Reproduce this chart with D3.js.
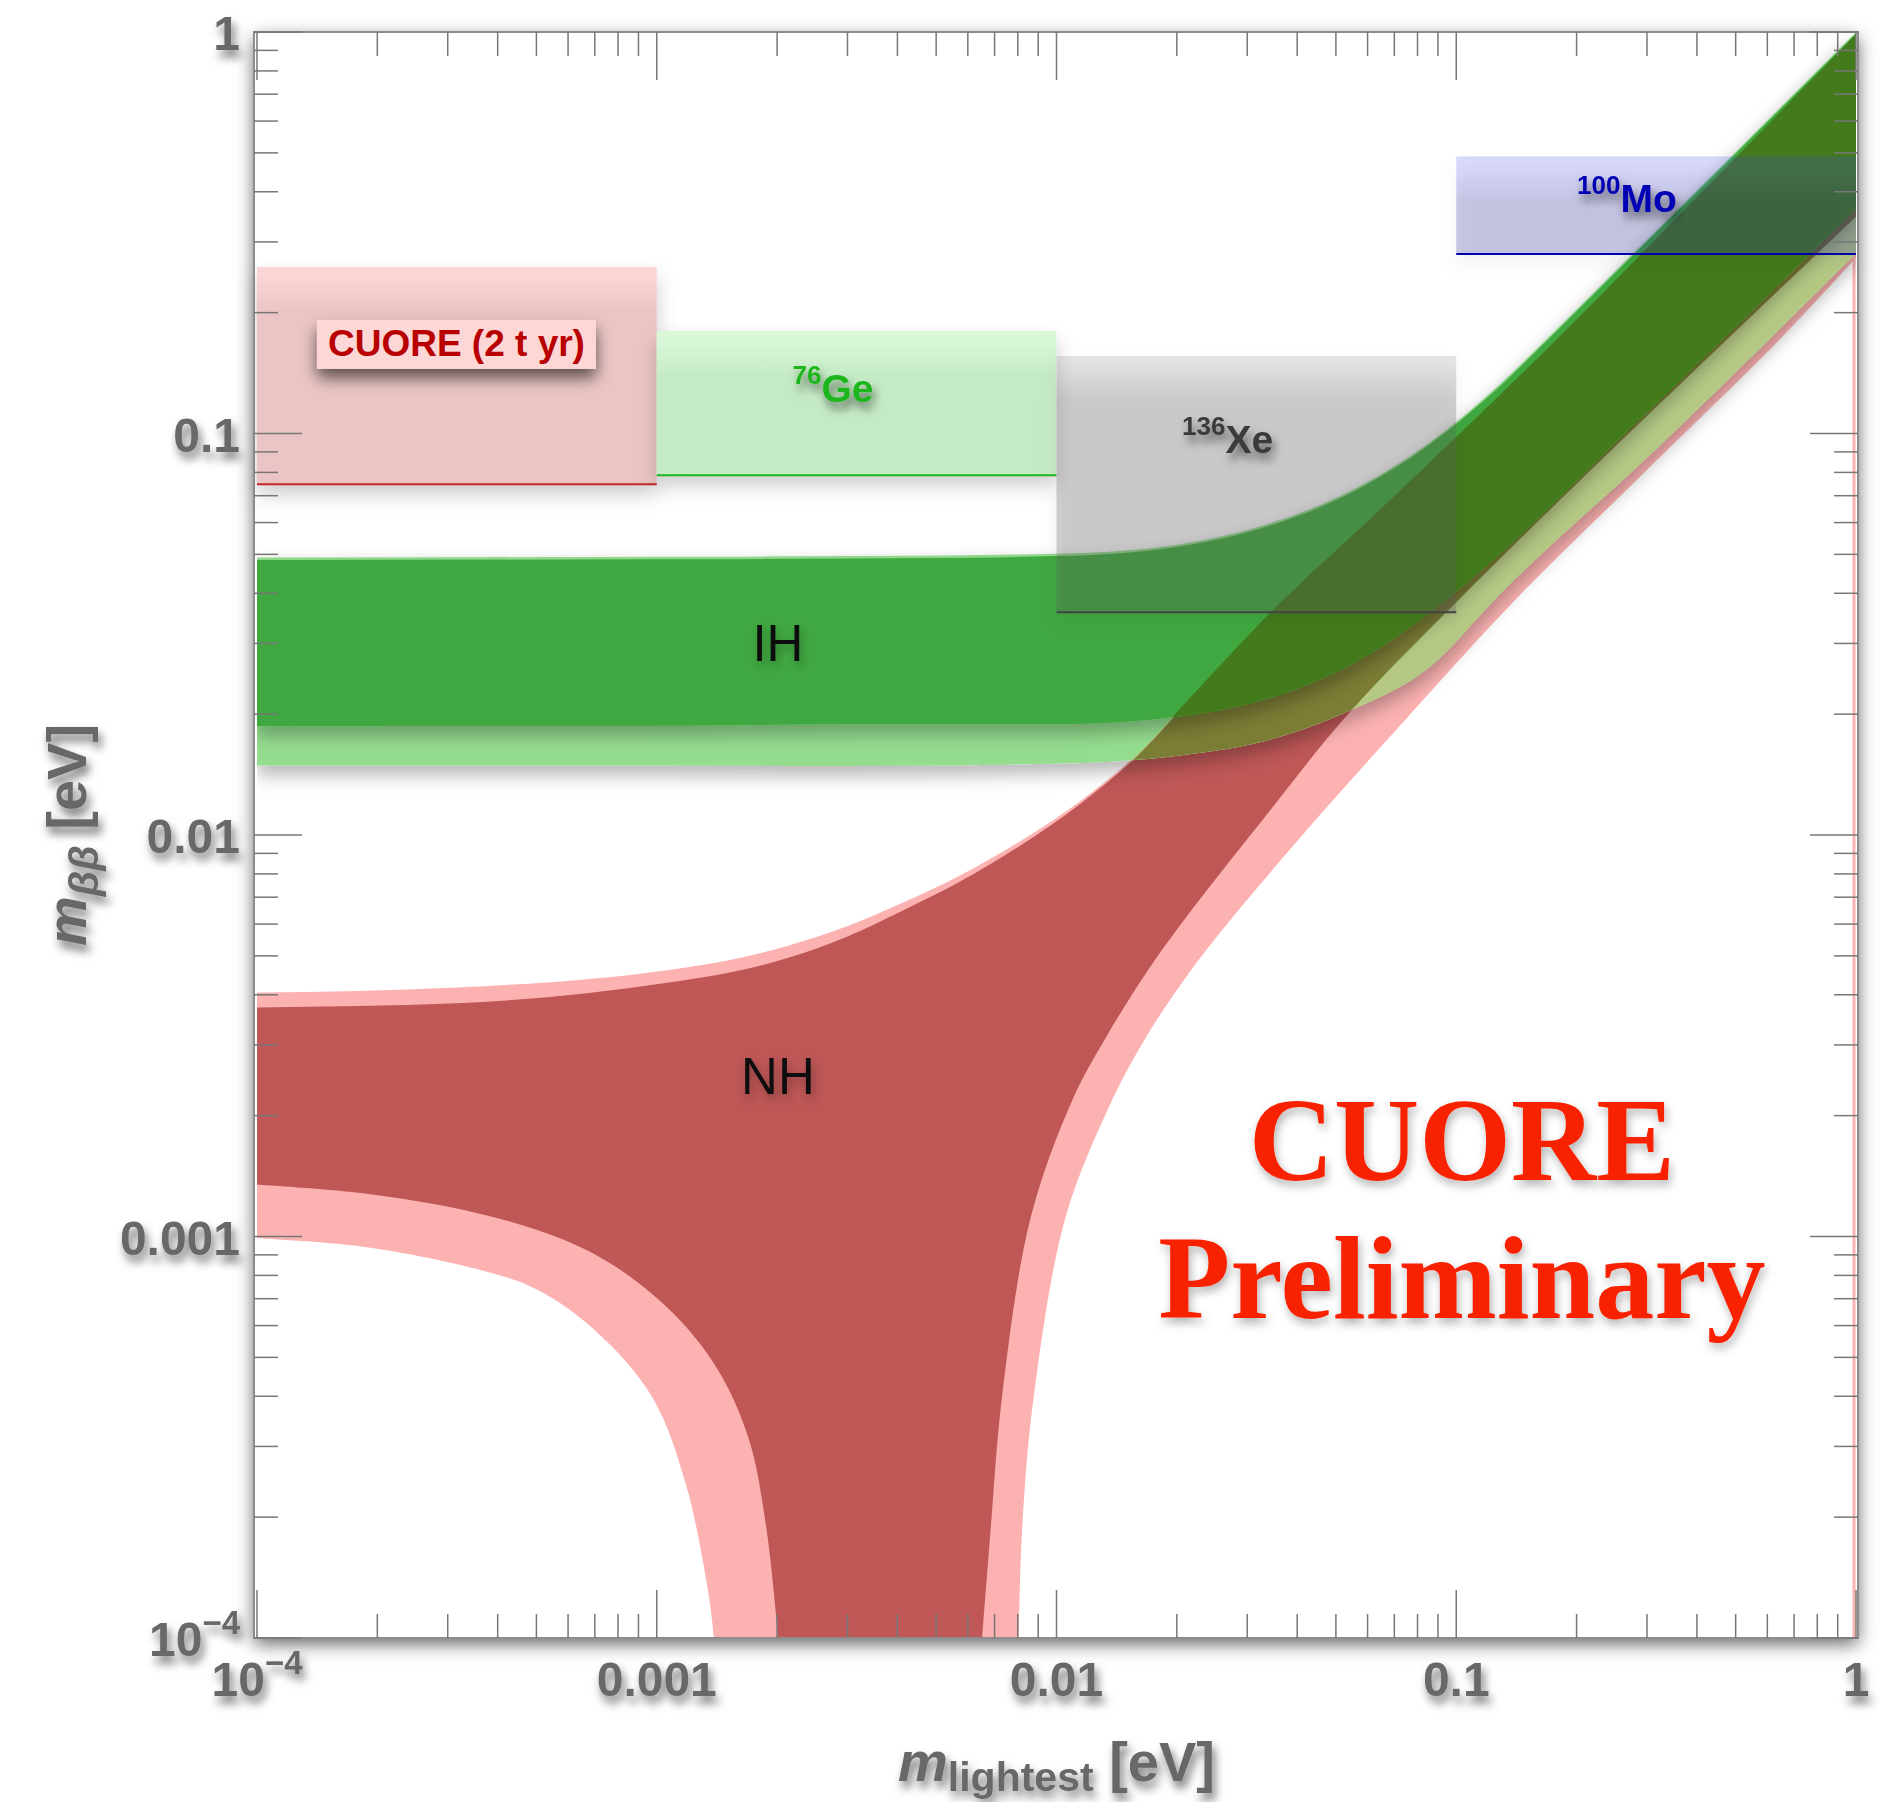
<!DOCTYPE html>
<html>
<head>
<meta charset="utf-8">
<script src="https://cdn.jsdelivr.net/npm/d3@7"></script>
<style>
  body { margin: 0; background: #fff; }
  svg { display: block; }
</style>
</head>
<body>
<div id="main"></div>
<script>
// axis ticks
var xTickValues = [1e-4, 1e-3, 1e-2, 1e-1, 1];
var xTickLabels = ['10^\u22124', '0.001', '0.01', '0.1', '1'];
var yTickValues = [1e-4, 1e-3, 1e-2, 1e-1, 1];
var yTickLabels = ['10^\u22124', '0.001', '0.01', '0.1', '1'];

// normal hierarchy band [m_lightest, m_bb] in eV
var nhOuterUpper = [[1e-4, 0.00405], [3.16e-4, 0.00417], [1.05e-3, 0.00460], [1.514e-3, 0.004875],
    [2.143e-3, 0.00531], [3.041e-3, 0.005957], [4.055e-3, 0.00673], [5.754e-3, 0.007943],
    [8.128e-3, 0.009661], [0.01148, 0.01216], [0.01585, 0.01585], [0.02291, 0.02344], [0.0332, 0.03467],
    [0.0644, 0.0646], [0.1683, 0.1622], [0.4395, 0.4266], [0.6457, 0.631], [1, 0.989]];
var nhInnerUpper = [[1e-4, 0.00372], [3.16e-4, 0.00381], [1.05e-3, 0.00428], [1.514e-3, 0.00454],
    [2.143e-3, 0.00495], [3.041e-3, 0.00562], [4.055e-3, 0.00643], [5.754e-3, 0.00767],
    [8.128e-3, 0.00942], [0.01148, 0.01197], [0.01585, 0.01567], [0.02291, 0.02323], [0.0332, 0.03443],
    [0.0644, 0.0641], [0.1683, 0.161], [0.4395, 0.425], [0.6457, 0.629], [1, 0.988]];
var nhInnerLowerLeft = [[1e-4, 0.001346], [1.862e-4, 0.00128], [3.606e-4, 0.00114], [5.916e-4, 0.000977],
    [8.24e-4, 0.000817], [1.146e-3, 0.000617], [1.445e-3, 0.000453], [1.706e-3, 0.000309],
    [1.884e-3, 0.000185], [2.014e-3, 0.0001]];
var nhInnerLowerRight = [[0.00652, 0.0001], [0.00684, 0.000185], [0.00731, 0.0004], [0.00861, 0.00111],
    [0.01096, 0.002188], [0.01337, 0.003162], [0.0166, 0.004467], [0.02056, 0.006026], [0.0332, 0.01109],
    [0.0535, 0.01995], [0.1, 0.03802], [0.2512, 0.0933], [1, 0.3467]];
var nhOuterLowerLeft = [[1e-4, 0.00099], [1.862e-4, 0.000942], [3.606e-4, 0.000826], [5.01e-4, 0.000738],
    [6.98e-4, 0.000586], [9.73e-4, 0.000399], [1.186e-3, 0.000239], [1.352e-3, 0.000126], [1.39e-3, 0.0001]];
var nhOuterLowerRight = [[0.00805, 0.0001], [0.0082, 0.000185], [0.00877, 0.000399], [0.01052, 0.00111],
    [0.01349, 0.002089], [0.0166, 0.00309], [0.02089, 0.004365], [0.02606, 0.005821], [0.04207, 0.01023],
    [0.0676, 0.01738], [0.1387, 0.03802], [0.2999, 0.0811], [0.6457, 0.1718], [1, 0.274]];

// inverted hierarchy band
var ihOuterUpper = [[1e-4, 0.0491], [1e-3, 0.0493], [3.04e-3, 0.0495], [0.01005, 0.0502], [0.02056, 0.0531],
    [0.0332, 0.0592], [0.0535, 0.0714], [0.0861, 0.0953], [0.1285, 0.1327], [0.1683, 0.172],
    [0.2767, 0.2812], [0.4416, 0.4446], [0.6486, 0.65], [1, 1]];
var ihInnerUpper = [[1e-4, 0.0484], [1e-3, 0.0486], [3.04e-3, 0.0488], [0.01005, 0.0495], [0.02056, 0.0524],
    [0.0332, 0.0584], [0.0535, 0.0705], [0.0861, 0.0942], [0.1285, 0.131], [0.1683, 0.17],
    [0.2767, 0.278], [0.4416, 0.44], [0.6486, 0.645], [1, 0.99]];
var ihInnerLower = [[1e-4, 0.01866], [1e-3, 0.0187], [3.04e-3, 0.01888], [0.01005, 0.01888], [0.02056, 0.01977],
    [0.0332, 0.02178], [0.0535, 0.0263], [0.0861, 0.0359], [0.1285, 0.0501], [0.2466, 0.0935],
    [0.5321, 0.1963], [1, 0.363]];
var ihOuterLower = [[1e-4, 0.0149], [1e-3, 0.0149], [3.04e-3, 0.01486], [0.01005, 0.01507], [0.02056, 0.01581],
    [0.0332, 0.01714], [0.0535, 0.0203], [0.0861, 0.0263], [0.1285, 0.0398], [0.316, 0.0914], [1, 0.281]];

// experimental limits
var expNames = ['CUORE (2 t yr)', 'Ge', 'Xe', 'Mo'];
var expMass = ['', '76', '136', '100'];
var expXmin = [1e-4, 1e-3, 1e-2, 1e-1];
var expXmax = [1e-3, 1e-2, 1e-1, 1];
var expYmin = [0.0748, 0.0787, 0.0359, 0.28];
var expYmax = [0.26, 0.18, 0.156, 0.49];
var expLabelX = [3.155e-4, 0.00276, 0.0268, 0.2673];
var expLabelY = [0.156, 0.1197, 0.0893, 0.356];

var bandNames = ['NH', 'IH'];
var bandLabelX = [0.00201, 0.00201];
var bandLabelY = [0.00227, 0.0272];

var watermark = ['CUORE', 'Preliminary'];
var watermarkX = 0.1033;
var watermarkY = [0.00138, 0.000625];

// styles
var boxTop = [['#fad6d6', 1], ['#d8f8d8', 1], ['#787878', 0.2], ['#4646eb', 0.2]];
var boxMain = [['#ebc5c5', 1], ['#c5ebc5', 1], ['#5a5a5a', 0.28], ['#3232a0', 0.25]];
var boxLine = ['#c62828', '#1fb51f', '#444444', '#0000aa'];
var labelColor = ['#b80000', '#1db51d', '#3a3a3a', '#0000b4'];

var W = 1881, H = 1802;
var sans = '"Liberation Sans", Arial, Helvetica, sans-serif';

var x = d3.scaleLog().domain([1e-4, 1]).range([257, 1856]);
var y = d3.scaleLog().domain([1e-4, 1]).range([1638, 32]);

var svg = d3.select('#main').append('svg')
    .attr('width', W)
    .attr('height', H)
    .style('font-family', sans);

var defs = svg.append('defs');

function shadow(id, dx, dy, sd, op) {
    defs.append('filter')
        .attr('id', id)
        .attr('x', '-30%').attr('y', '-40%')
        .attr('width', '160%').attr('height', '200%')
        .append('feDropShadow')
        .attr('dx', dx).attr('dy', dy)
        .attr('stdDeviation', sd)
        .attr('flood-color', '#000')
        .attr('flood-opacity', op);
}
shadow('shFrame', 0, 6, 9, 0.6);
shadow('shText', 3, 7, 5, 0.55);
shadow('shSoft', 2, 5, 5, 0.3);
shadow('shBand', 0, 10, 9, 0.28);
shadow('shBox', 0, 10, 10, 0.2);
shadow('shLabel', 0, 9, 8, 0.6);

defs.append('clipPath').attr('id', 'plotClip')
    .append('rect')
    .attr('x', x(1e-4)).attr('y', y(1))
    .attr('width', x(1) - x(1e-4)).attr('height', y(1e-4) - y(1));

// smooth edges that are functions of m_lightest
var line = d3.line()
    .x(function(d){ return x(d[0]); })
    .y(function(d){ return y(d[1]); })
    .curve(d3.curveMonotoneX);
// the NH legs turn vertical, so a parametric spline is used there
var legLine = d3.line()
    .x(function(d){ return x(d[0]); })
    .y(function(d){ return y(d[1]); })
    .curve(d3.curveCatmullRom.alpha(0.5));

function bandPath(upper, lowerLegs, lowerLine){
    var d = line(upper);
    lowerLegs.slice().reverse().forEach(function(leg){
        d += lowerLine(leg.slice().reverse()).replace(/^M/, 'L');
    });
    return d + 'Z';
}

var nhOuterD = bandPath(nhOuterUpper, [nhOuterLowerLeft, nhOuterLowerRight], legLine);
var nhInnerD = bandPath(nhInnerUpper, [nhInnerLowerLeft, nhInnerLowerRight], legLine);
var ihOuterD = bandPath(ihOuterUpper, [ihOuterLower], line);
var ihInnerD = bandPath(ihInnerUpper, [ihInnerLower], line);

defs.append('clipPath').attr('id', 'nhOuterClip').append('path').attr('d', nhOuterD);
defs.append('clipPath').attr('id', 'nhInnerClip').append('path').attr('d', nhInnerD);

// plot background with drop shadow
svg.append('rect')
    .attr('x', 254).attr('y', 32)
    .attr('width', 1604).attr('height', 1606)
    .attr('fill', '#fff')
    .attr('filter', 'url(#shFrame)');

// bands
var bands = svg.append('g').attr('clip-path', 'url(#plotClip)');
bands.append('path').attr('d', nhOuterD).attr('fill', '#fdb2b2');
bands.append('path').attr('d', nhInnerD).attr('fill', '#bf5757');
bands.append('line')
    .attr('x1', x(1) - 2).attr('x2', x(1) - 2)
    .attr('y1', y(nhOuterLowerRight[nhOuterLowerRight.length - 1][1]))
    .attr('y2', y(1e-4))
    .attr('stroke', '#fdb2b2').attr('stroke-width', 3);
bands.append('path').attr('d', ihOuterD).attr('fill', '#94dd8f').attr('filter', 'url(#shBand)');
bands.append('g').attr('clip-path', 'url(#nhOuterClip)')
    .append('path').attr('d', ihOuterD).attr('fill', '#b5c985');
bands.append('g').attr('clip-path', 'url(#nhInnerClip)')
    .append('path').attr('d', ihOuterD).attr('fill', '#7b7d35');
bands.append('path').attr('d', ihInnerD).attr('fill', '#40a840').attr('filter', 'url(#shBand)');
bands.append('g').attr('clip-path', 'url(#nhOuterClip)')
    .append('path').attr('d', ihInnerD).attr('fill', '#437a1c');

// experiment boxes
var boxes = svg.append('g');
expNames.forEach(function(name, i){
    var bx0 = x(expXmin[i]), bx1 = x(expXmax[i]);
    var by0 = y(expYmax[i]), by1 = y(expYmin[i]);
    var h = by1 - by0;
    var grad = defs.append('linearGradient')
        .attr('id', 'boxGrad' + i)
        .attr('x1', 0).attr('y1', 0).attr('x2', 0).attr('y2', 1);
    [[0, boxTop[i]], [8 / h, boxTop[i]], [45 / h, boxMain[i]], [1, boxMain[i]]].forEach(function(s){
        grad.append('stop')
            .attr('offset', s[0])
            .attr('stop-color', s[1][0])
            .attr('stop-opacity', s[1][1]);
    });
    boxes.append('rect')
        .attr('x', bx0).attr('y', by0)
        .attr('width', bx1 - bx0).attr('height', h)
        .attr('fill', 'url(#boxGrad' + i + ')')
        .attr('filter', 'url(#shBox)');
    boxes.append('line')
        .attr('x1', bx0).attr('x2', bx1)
        .attr('y1', by1).attr('y2', by1)
        .attr('stroke', boxLine[i])
        .attr('stroke-width', 2);
});

// frame and ticks
var axes = svg.append('g');
axes.append('rect')
    .attr('x', 254).attr('y', 32)
    .attr('width', 1604).attr('height', 1606)
    .attr('fill', 'none')
    .attr('stroke', '#8c8c8c')
    .attr('stroke-width', 2);

function isMajor(v){ return Math.abs(Math.log10(v) - Math.round(Math.log10(v))) < 1e-6; }

x.ticks().forEach(function(v){
    var len = isMajor(v) ? 48 : 24;
    axes.append('line').attr('x1', x(v)).attr('x2', x(v))
        .attr('y1', y(1e-4)).attr('y2', y(1e-4) - len);
    axes.append('line').attr('x1', x(v)).attr('x2', x(v))
        .attr('y1', y(1)).attr('y2', y(1) + len);
});
y.ticks().forEach(function(v){
    var len = isMajor(v) ? 48 : 24;
    axes.append('line').attr('y1', y(v)).attr('y2', y(v))
        .attr('x1', 254).attr('x2', 254 + len);
    axes.append('line').attr('y1', y(v)).attr('y2', y(v))
        .attr('x1', 1858).attr('x2', 1858 - len);
});
axes.selectAll('line').attr('stroke', '#777').attr('stroke-width', 1.5);

function tickText(sel, label){
    var parts = label.split('^');
    sel.append('tspan').text(parts[0]);
    if (parts.length > 1) {
        sel.append('tspan').attr('dy', -22).attr('font-size', 33).text(parts[1]);
    }
}

var tickLabels = svg.append('g')
    .attr('font-weight', 'bold')
    .attr('font-size', 48)
    .attr('fill', '#686868')
    .attr('filter', 'url(#shText)');

xTickValues.forEach(function(v, i){
    var t = tickLabels.append('text')
        .attr('x', x(v))
        .attr('y', y(1e-4) + 58)
        .attr('text-anchor', 'middle');
    tickText(t, xTickLabels[i]);
});
yTickValues.forEach(function(v, i){
    var t = tickLabels.append('text')
        .attr('x', 240)
        .attr('y', y(v) + 18)
        .attr('text-anchor', 'end');
    tickText(t, yTickLabels[i]);
});

// axis titles
var titles = svg.append('g')
    .attr('font-weight', 'bold')
    .attr('fill', '#686868')
    .attr('filter', 'url(#shText)');

var xt = titles.append('text')
    .attr('x', (x(1e-4) + x(1)) / 2)
    .attr('y', 1781)
    .attr('text-anchor', 'middle')
    .attr('font-size', 56);
xt.append('tspan').attr('font-style', 'italic').text('m');
xt.append('tspan').attr('font-size', 41).attr('dy', 10).text('lightest');
xt.append('tspan').attr('dy', -10).text('\u00a0[eV]');

var yt = titles.append('text')
    .attr('transform', 'translate(86,' + ((y(1) + y(1e-4)) / 2) + ') rotate(-90)')
    .attr('text-anchor', 'middle')
    .attr('font-size', 56);
yt.append('tspan').attr('font-style', 'italic').text('m');
yt.append('tspan').attr('font-style', 'italic').attr('font-size', 41).attr('dy', 12).text('\u03b2\u03b2');
yt.append('tspan').attr('dy', -12).text('\u00a0[eV]');

// band labels
bandNames.forEach(function(name, i){
    svg.append('text')
        .attr('x', x(bandLabelX[i]))
        .attr('y', y(bandLabelY[i]))
        .attr('text-anchor', 'middle')
        .attr('font-size', 51)
        .attr('fill', '#111')
        .attr('filter', 'url(#shSoft)')
        .text(name);
});

// experiment labels
expNames.forEach(function(name, i){
    var lx = x(expLabelX[i]), ly = y(expLabelY[i]);
    if (expMass[i] === '') {
        var g = svg.append('g');
        var bgRect = g.append('rect').attr('fill', '#fdd6d6').attr('filter', 'url(#shLabel)');
        var t = g.append('text')
            .attr('x', lx).attr('y', ly)
            .attr('text-anchor', 'middle')
            .attr('font-size', 37)
            .attr('font-weight', 'bold')
            .attr('fill', labelColor[i])
            .text(name);
        var bb = t.node().getBBox();
        bgRect.attr('x', bb.x - 11).attr('y', bb.y - 3)
            .attr('width', bb.width + 22).attr('height', bb.height + 8);
    } else {
        var t2 = svg.append('text')
            .attr('x', lx).attr('y', ly)
            .attr('text-anchor', 'middle')
            .attr('font-weight', 'bold')
            .attr('fill', labelColor[i])
            .attr('filter', 'url(#shText)');
        t2.append('tspan').attr('font-size', 26).attr('dy', -18).text(expMass[i]);
        t2.append('tspan').attr('font-size', 39).attr('dy', 18).text(name);
    }
});

// watermark
watermark.forEach(function(w, i){
    svg.append('text')
        .attr('x', x(watermarkX))
        .attr('y', y(watermarkY[i]))
        .attr('text-anchor', 'middle')
        .attr('font-family', '"Liberation Serif", "Times New Roman", serif')
        .attr('font-weight', 'bold')
        .attr('font-size', 118)
        .attr('fill', '#f82400')
        .attr('filter', 'url(#shSoft)')
        .text(w);
});
</script>
</body>
</html>
